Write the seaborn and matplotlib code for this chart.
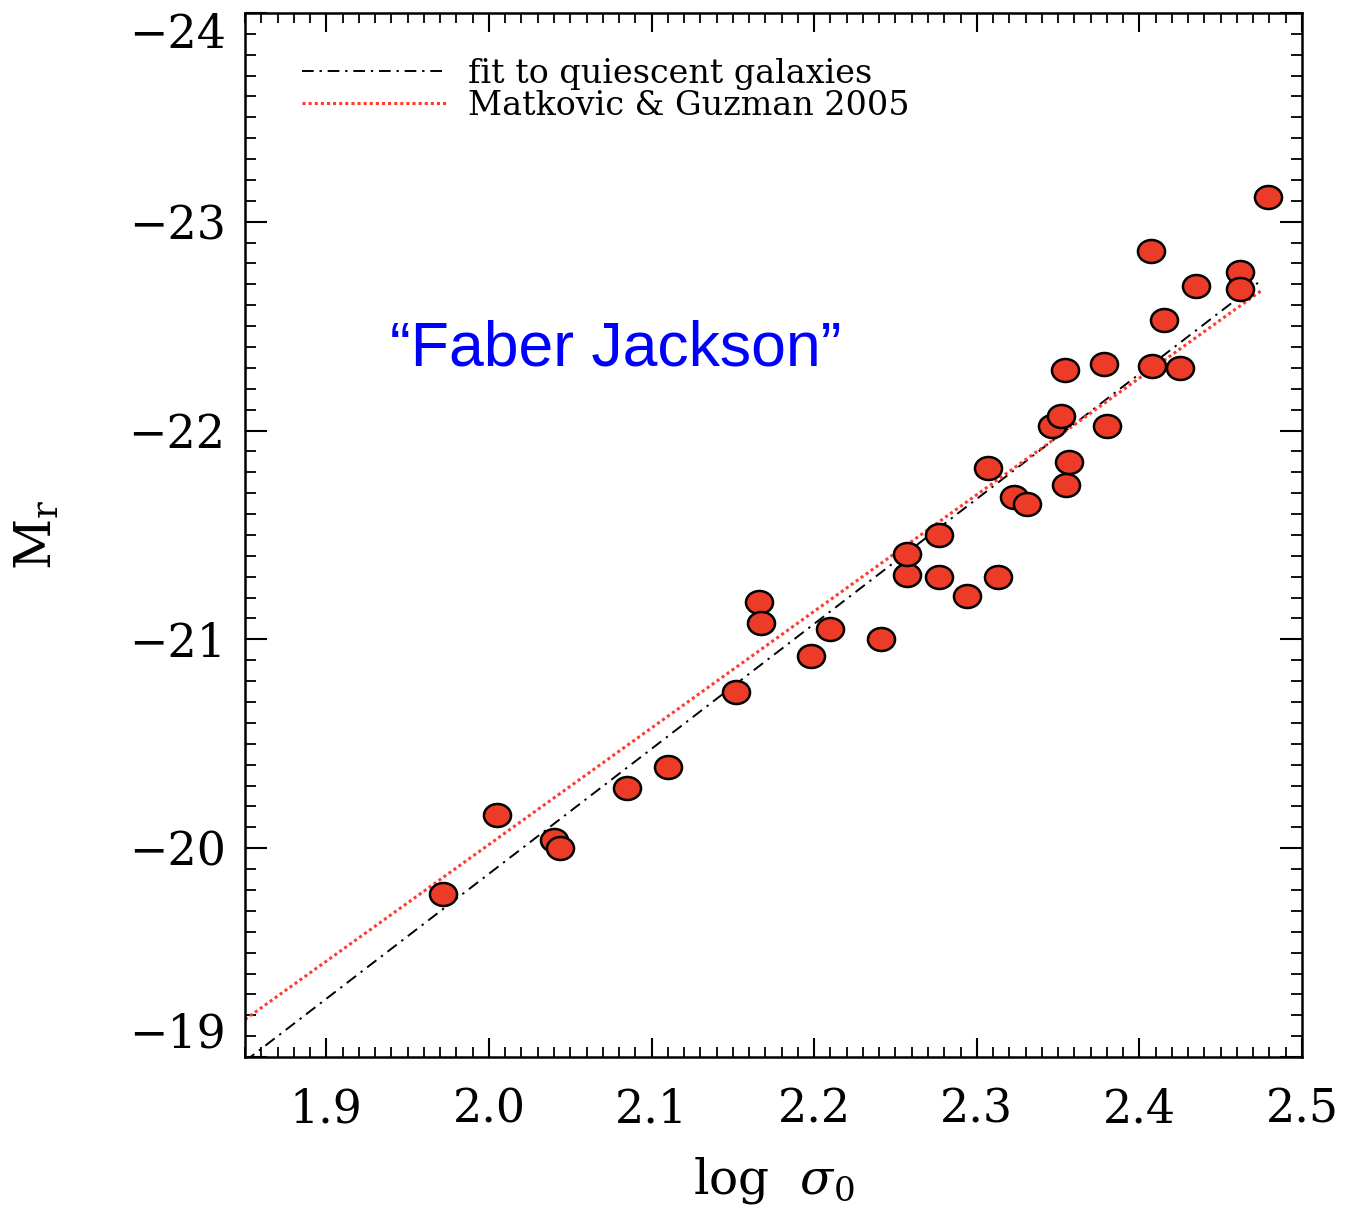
import numpy as np
import pandas as pd
import matplotlib
matplotlib.use("Agg")
import matplotlib.pyplot as plt
from matplotlib.path import Path
from matplotlib.ticker import MultipleLocator
import seaborn as sns

# ---- data ----
log_sigma = [1.972, 2.005, 2.040, 2.044, 2.085, 2.110, 2.152, 2.166, 2.167, 2.198,
             2.210, 2.241, 2.257, 2.257, 2.277, 2.277, 2.294, 2.313, 2.307, 2.323,
             2.331, 2.346, 2.352, 2.354, 2.355, 2.357, 2.378, 2.380, 2.407, 2.408,
             2.415, 2.425, 2.435, 2.462, 2.462, 2.479]
M_r = [-19.78, -20.16, -20.04, -20.00, -20.29, -20.39, -20.75, -21.18, -21.08, -20.92,
       -21.05, -21.00, -21.31, -21.41, -21.30, -21.50, -21.21, -21.30, -21.82, -21.68,
       -21.65, -22.02, -22.07, -22.29, -21.74, -21.85, -22.32, -22.02, -22.86, -22.31,
       -22.53, -22.30, -22.69, -22.76, -22.68, -23.12]

fit_x = [1.85, 2.475]
fit_y = [-18.98, -22.72]
mg_x = [1.85, 2.475]
mg_y = [-19.18, -22.67]

fit_label = "fit to quiescent galaxies"
mg_label = "Matkovic & Guzman 2005"
annot = "\u201cFaber Jackson\u201d"
xticks = [1.9, 2.0, 2.1, 2.2, 2.3, 2.4, 2.5]
yticks = [-24, -23, -22, -21, -20, -19]

df = pd.DataFrame({"log_sigma": log_sigma, "M_r": M_r})

sns.set_theme(style="ticks")
plt.rcParams["font.family"] = ["DejaVu Serif"]
plt.rcParams["mathtext.fontset"] = "dejavuserif"
plt.rcParams["text.color"] = "black"
plt.rcParams["axes.labelcolor"] = "black"

fig = plt.figure(figsize=(13.47, 12.15), dpi=100)
ax = fig.add_axes([0.1819, 0.130, 0.7847, 0.8594])

sns.lineplot(x=fit_x, y=fit_y, ax=ax, color="black", linewidth=1.4,
             dashes=False, linestyle=(0, (6, 3, 1.2, 3)), label=fit_label, sort=False)
sns.lineplot(x=mg_x, y=mg_y, ax=ax, color="#ff3b30", linewidth=2.2,
             linestyle=(0, (1, 1)), label=mg_label, sort=False)

circ = Path.unit_circle()
ellipse = Path(circ.vertices * np.array([1.0, 0.85]), circ.codes)
sns.scatterplot(data=df, x="log_sigma", y="M_r", ax=ax, marker=ellipse, s=380,
                color="#ec3b26", edgecolor="black", linewidth=1.8, zorder=5, legend=False)

ax.set_xlim(1.85, 2.5)
ax.set_ylim(-19, -24)
ax.set_xticks(xticks)
ax.set_xticklabels([f"{v:.1f}" for v in xticks])
ax.set_yticks(yticks)
ax.set_yticklabels([f"\u2212{abs(v)}" for v in yticks])
ax.xaxis.set_minor_locator(MultipleLocator(0.01))
ax.yaxis.set_minor_locator(MultipleLocator(0.1))

ax.tick_params(which="both", direction="in", top=True, right=True, colors="black")
ax.tick_params(axis="x", which="major", length=14, width=1.5, labelsize=33, pad=22)
ax.tick_params(axis="x", which="minor", length=7, width=1.3)
ax.tick_params(axis="y", which="major", length=16, width=1.5, labelsize=33, pad=14)
ax.tick_params(axis="y", which="minor", length=8, width=1.3)
for s in ax.spines.values():
    s.set_linewidth(1.8)
    s.set_color("black")

ylabs = ax.get_yticklabels()
ylabs[0].set_va("top")
ylabs[-1].set_va("bottom")

ax.set_xlabel(r"log  $\sigma_0$", fontsize=35, labelpad=16, color="black")
ax.set_ylabel(r"$\mathrm{M_r}$", fontsize=36, labelpad=48, color="black")

ax.text(0.351, 0.678, annot, transform=ax.transAxes, fontsize=45, color="#0000ff",
        family=["Liberation Sans", "DejaVu Sans"], ha="center", va="center")

leg = ax.legend(loc="upper left", bbox_to_anchor=(0.054, 0.957), frameon=False,
                fontsize=24, handlelength=4.35, handletextpad=0.63, labelspacing=0.0,
                borderpad=0, borderaxespad=0, labelcolor="black")

fig.savefig("out.png", dpi=100, facecolor="white")
